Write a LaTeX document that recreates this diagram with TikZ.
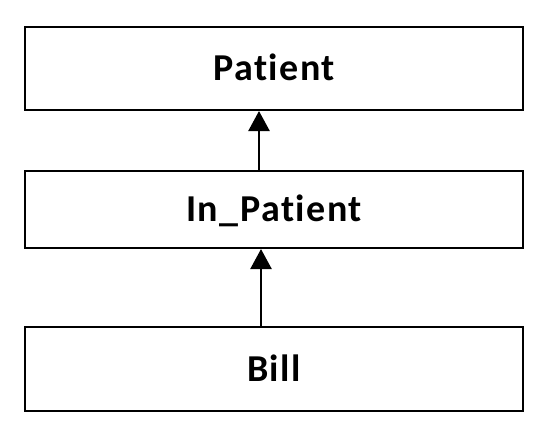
\documentclass[tikz,border=0pt]{standalone}
\usepackage{fontspec}
\setmainfont{Carlito}[Ligatures={NoCommon},LetterSpace=4]
\usetikzlibrary{arrows.meta}
\begin{document}
\begin{tikzpicture}[x=0.75pt,y=-0.75pt,
  classbox/.style={draw=black, line width=1.6pt, rectangle, minimum width=373.5pt, inner sep=0pt, text height=18pt, text depth=0pt, font=\fontsize{28.5pt}{32pt}\selectfont\bfseries},
  arr/.style={draw=black, line width=1.1pt, -{Triangle[width=16pt,length=15pt]}}]
\useasboundingbox (0,0) rectangle (548,440);
\node[classbox, minimum height=62.25pt] (pat) at (274,68.5) {Patient};
\node[classbox, minimum height=57.75pt] (inp) at (274,209.5) {In\_Patient};
\node[classbox, minimum height=63pt] (bill) at (274,369) {Bill};
\draw[arr] ([xshift=-11.25pt]inp.north) -- ([xshift=-11.25pt]pat.south);
\draw[arr] ([xshift=-9.75pt]bill.north) -- ([xshift=-9.75pt]inp.south);
\end{tikzpicture}
\end{document}
